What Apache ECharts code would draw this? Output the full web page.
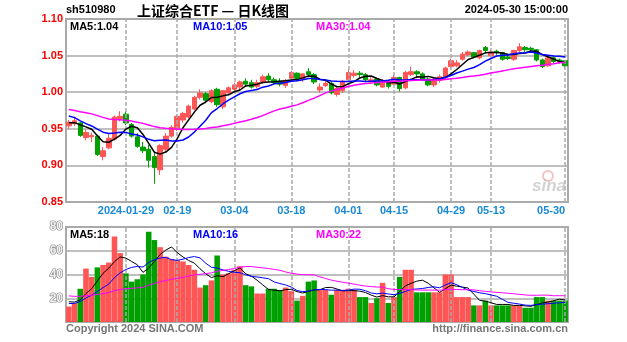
<!DOCTYPE html>
<html><head><meta charset="utf-8">
<script src="https://cdn.jsdelivr.net/npm/echarts/dist/echarts.min.js"></script>
<style>html,body{margin:0;padding:0;background:#fff}#c{width:627px;height:342px}</style>
</head><body><div id="c"></div>
<script>
const dates = [
'2024-01-15','2024-01-16','2024-01-17','2024-01-18','2024-01-19','2024-01-22','2024-01-23','2024-01-24','2024-01-25','2024-01-26',
'2024-01-29','2024-01-30','2024-01-31','2024-02-01','2024-02-02','2024-02-05','2024-02-06','2024-02-07','2024-02-08','2024-02-19',
'2024-02-20','2024-02-21','2024-02-22','2024-02-23','2024-02-26','2024-02-27','2024-02-28','2024-02-29','2024-03-01','2024-03-04',
'2024-03-05','2024-03-06','2024-03-07','2024-03-08','2024-03-11','2024-03-12','2024-03-13','2024-03-14','2024-03-15','2024-03-18',
'2024-03-19','2024-03-20','2024-03-21','2024-03-22','2024-03-25','2024-03-26','2024-03-27','2024-03-28','2024-03-29','2024-04-01',
'2024-04-02','2024-04-03','2024-04-08','2024-04-09','2024-04-10','2024-04-11','2024-04-12','2024-04-15','2024-04-16','2024-04-17',
'2024-04-18','2024-04-19','2024-04-22','2024-04-23','2024-04-24','2024-04-25','2024-04-26','2024-04-29','2024-04-30','2024-05-06',
'2024-05-07','2024-05-08','2024-05-09','2024-05-10','2024-05-13','2024-05-14','2024-05-15','2024-05-16','2024-05-17','2024-05-20',
'2024-05-21','2024-05-22','2024-05-23','2024-05-24','2024-05-27','2024-05-28','2024-05-29','2024-05-30'];

const openP = [
.954,.957,.958,.938,.939,.940,.912,.924,.936,.964,
.970,.956,.939,.925,.922,.912,.894,.922,.940,.949,
.962,.966,.977,.993,.998,.987,1.004,.980,.999,1.004,
1.007,1.015,1.013,1.008,1.014,1.022,1.017,1.015,1.009,1.019,
1.026,1.018,1.028,1.024,1.003,1.009,1.012,.997,1.002,1.017,
1.023,1.026,1.024,1.014,1.018,1.007,1.013,1.011,1.020,1.006,
1.024,1.028,1.025,1.018,1.010,1.016,1.020,1.035,1.036,1.045,
1.051,1.054,1.047,1.061,1.050,1.056,1.054,1.048,1.045,1.057,
1.061,1.060,1.058,1.044,1.036,1.047,1.044,1.043];
const closeP = [
.959,.961,.941,.945,.941,.915,.920,.937,.966,.967,
.958,.940,.926,.920,.907,.897,.927,.940,.952,.967,
.971,.981,.993,.999,.989,1.002,.983,1.002,1.006,1.010,
1.014,1.011,1.007,1.013,1.021,1.017,1.013,1.011,1.016,1.027,
1.019,1.025,1.024,1.014,1.007,1.012,.999,1.005,1.015,1.027,
1.026,1.024,1.017,1.017,1.010,1.013,1.008,1.020,1.005,1.027,
1.028,1.025,1.018,1.010,1.018,1.021,1.033,1.043,1.040,1.052,
1.055,1.048,1.057,1.057,1.055,1.054,1.045,1.046,1.057,1.062,
1.058,1.058,1.044,1.035,1.047,1.042,1.042,1.036];
const lowP = [
.950,.954,.939,.934,.932,.913,.907,.922,.934,.960,
.955,.938,.924,.917,.897,.875,.887,.917,.938,.947,
.958,.964,.975,.990,.985,.985,.980,.977,.996,1.000,
1.003,1.008,1.005,1.005,1.012,1.014,1.010,1.008,1.006,1.017,
1.015,1.014,1.022,1.011,.999,1.007,.997,.994,.999,1.015,
1.020,1.020,1.014,1.011,1.008,1.006,1.005,1.009,1.001,1.004,
1.022,1.019,1.015,1.008,1.007,1.013,1.018,1.033,1.034,1.043,
1.049,1.046,1.045,1.053,1.048,1.051,1.043,1.044,1.043,1.055,
1.055,1.054,1.042,1.033,1.035,1.040,1.039,1.033];
const highP = [
.962,.967,.959,.949,.945,.942,.925,.944,.968,.974,
.974,.958,.944,.932,.928,.917,.929,.944,.955,.969,
.973,.983,.995,1.004,1.000,1.004,1.006,1.003,1.008,1.013,
1.016,1.019,1.017,1.017,1.024,1.026,1.020,1.019,1.018,1.029,
1.027,1.026,1.033,1.026,1.012,1.017,1.015,1.008,1.017,1.031,
1.030,1.029,1.026,1.021,1.020,1.018,1.015,1.024,1.021,1.029,
1.035,1.030,1.027,1.020,1.020,1.024,1.035,1.046,1.044,1.055,
1.057,1.055,1.058,1.063,1.058,1.058,1.055,1.052,1.058,1.067,
1.063,1.062,1.059,1.046,1.049,1.049,1.046,1.044];
const volume = [
13,16,28,45,38,46,48,50,72,58,
41,34,36,40,76,69,63,55,53,52,
51,48,44,29,31,35,56,40,41,44,
47,31,30,24,24,28,28,27,29,26,
18,22,34,35,27,27,23,27,27,28,
27,21,21,16,20,33,16,21,38,44,
44,25,25,25,25,25,40,40,21,21,
21,14,14,18,14,14,14,14,14,14,
12,12,21,21,18,18,18,18];
// closes / volumes of the 29 sessions before the first shown day (only feed the moving averages)
const priorClose = [1.005,.988,.986,.986,.987,.994,.998,.987,.983,.978,.974,.974,.964,.970,.968,.970,.963,.968,.982,.989,.984,.986,.982,.973,.959,.961,.956,.959,.957];
const priorVolume = [28,26,30,27,25,24,27,26,25,23,24,26,22,25,24,23,21,24,27,28,14,13,15,14,14,17,19,18,18];

const tickDates = ['2024-01-29','2024-02-19','2024-03-04','2024-03-18','2024-04-01','2024-04-15','2024-04-29','2024-05-13','2024-05-30'];
const tickLabels = ['2024-01-29','02-19','03-04','03-18','04-01','04-15','04-29','05-13','05-30'];
const priceTicks = [0.85,0.90,0.95,1.00,1.05,1.10];
const volTicks = [0,20,40,60,80];
const priceLegend = ['MA5:1.04','MA10:1.05','MA30:1.04'];
const volLegend = ['MA5:18','MA10:16','MA30:22'];

const UP = '#ff5555', DOWN = '#00a000';
function ma(vals, prior, n){
  const all = prior.concat(vals), off = prior.length;
  return vals.map((_, i) => { let s = 0; for (let k = 0; k < n; k++) s += all[off + i - k]; return +(s / n).toFixed(4); });
}
const kData = dates.map((d, i) => [openP[i], closeP[i], lowP[i], highP[i]]);
const volData = volume.map((v, i) => ({ value: v, itemStyle: { color: closeP[i] >= openP[i] ? UP : DOWN } }));

const chart = echarts.init(document.getElementById('c'), null, { renderer: 'canvas' });
const vline = { symbol: 'none', silent: true, label: { show: false }, lineStyle: { color: '#aaa', type: [4, 2], width: 1.5 }, data: tickDates.map(d => ({ xAxis: d })) };
const lbl = (c) => ({ font: 'bold 11px "Liberation Sans", Arial, sans-serif', fill: c, textVerticalAlign: 'middle', verticalAlign: 'middle' });
function txt(x, y, t, c, extra) { return { type: 'text', x, y, silent: true, z: 100, style: Object.assign({ text: t }, lbl(c), extra || {}) }; }

chart.setOption({
  animation: false,
  backgroundColor: '#fff',
  grid: [
    { left: 66, top: 19, width: 502, height: 183, show: true, borderColor: '#aaa', borderWidth: 2, backgroundColor: 'transparent' },
    { left: 66, top: 227, width: 502, height: 95, show: true, borderColor: '#aaa', borderWidth: 2, backgroundColor: 'transparent' }
  ],
  xAxis: [
    { type: 'category', gridIndex: 0, data: dates, boundaryGap: true,
      axisLine: { show: false }, axisTick: { show: false }, splitLine: { show: false },
      axisLabel: { interval: (i, v) => tickDates.includes(v), formatter: v => tickLabels[tickDates.indexOf(v)] || '',
        color: '#1a8ad4', fontWeight: 'bold', fontSize: 11, fontFamily: '"Liberation Sans", Arial, sans-serif', margin: 3, alignMaxLabel: 'right', hideOverlap: false } },
    { type: 'category', gridIndex: 1, data: dates, boundaryGap: true,
      axisLine: { show: false }, axisTick: { show: false }, splitLine: { show: false }, axisLabel: { show: false } }
  ],
  yAxis: [
    { type: 'value', gridIndex: 0, min: 0.85, max: 1.10, interval: 0.05,
      axisLine: { show: false }, axisTick: { show: false },
      splitLine: { show: true, lineStyle: { color: '#aaa', width: 1.5 } },
      axisLabel: { color: '#ff0000', fontWeight: 'bold', fontSize: 11, fontFamily: '"Liberation Sans", Arial, sans-serif', margin: 3,
        formatter: v => priceTicks.some(t => Math.abs(t - v) < 1e-6) ? v.toFixed(2) : '' } },
    { type: 'value', gridIndex: 1, min: 0, max: 80, interval: 20,
      axisLine: { show: false }, axisTick: { show: false },
      splitLine: { show: true, lineStyle: { color: '#aaa', width: 1.5 } },
      axisLabel: { color: '#eee', textBorderColor: '#888', textBorderWidth: 1.2, fontWeight: 'bold', fontSize: 12, fontFamily: '"Liberation Sans", Arial, sans-serif', margin: 3,
        formatter: v => (v === 0 || !volTicks.includes(v)) ? '' : String(v) } }
  ],
  series: [
    { type: 'candlestick', xAxisIndex: 0, yAxisIndex: 0, data: kData, barWidth: 5,
      itemStyle: { color: UP, color0: DOWN, borderColor: UP, borderColor0: DOWN, borderWidth: 1 }, markLine: vline, z: 3 },
    { type: 'line', xAxisIndex: 0, yAxisIndex: 0, data: ma(closeP, priorClose, 5), symbol: 'none', lineStyle: { color: '#000', width: 1.5 }, z: 5 },
    { type: 'line', xAxisIndex: 0, yAxisIndex: 0, data: ma(closeP, priorClose, 10), symbol: 'none', lineStyle: { color: '#0000ff', width: 1.5 }, z: 5 },
    { type: 'line', xAxisIndex: 0, yAxisIndex: 0, data: ma(closeP, priorClose, 30), symbol: 'none', lineStyle: { color: '#ff00ff', width: 1.5 }, z: 5 },
    { type: 'bar', xAxisIndex: 1, yAxisIndex: 1, data: volData, barCategoryGap: '3%', markLine: vline, z: 3 },
    { type: 'line', xAxisIndex: 1, yAxisIndex: 1, data: ma(volume, priorVolume, 5), symbol: 'none', lineStyle: { color: '#000', width: 1 }, z: 5 },
    { type: 'line', xAxisIndex: 1, yAxisIndex: 1, data: ma(volume, priorVolume, 10), symbol: 'none', lineStyle: { color: '#0000ff', width: 1 }, z: 5 },
    { type: 'line', xAxisIndex: 1, yAxisIndex: 1, data: ma(volume, priorVolume, 30), symbol: 'none', lineStyle: { color: '#ff00ff', width: 1 }, z: 5 }
  ],
  graphic: [
    txt(66, 10, 'sh510980', '#000'),
    { type: 'text', x: 213, y: 11, silent: true, z: 100, style: { text: '上证综合ETF — 日K线图', font: 'bold 14px "Noto Sans CJK SC", sans-serif', fill: '#000', textAlign: 'center', align: 'center', textVerticalAlign: 'middle', verticalAlign: 'middle' } },
    txt(568, 10, '2024-05-30 15:00:00', '#000', { textAlign: 'right', align: 'right' }),
    txt(70, 27, priceLegend[0], '#000'),
    txt(193, 27, priceLegend[1], '#0000ff'),
    txt(316, 27, priceLegend[2], '#ff00ff'),
    txt(70, 235, volLegend[0], '#000'),
    txt(193, 235, volLegend[1], '#0000ff'),
    txt(316, 235, volLegend[2], '#ff00ff'),
    { type: 'text', x: 66, y: 329, silent: true, z: 100, style: { text: 'Copyright 2024 SINA.COM', font: 'bold 11px "Liberation Sans", Arial, sans-serif', fill: '#777', textVerticalAlign: 'middle', verticalAlign: 'middle' } },
    { type: 'text', x: 568, y: 329, silent: true, z: 100, style: { text: 'http://finance.sina.com.cn', font: 'bold 11px "Liberation Sans", Arial, sans-serif', fill: '#777', textAlign: 'right', align: 'right', textVerticalAlign: 'middle', verticalAlign: 'middle' } },
    { type: 'circle', silent: true, z: 90, shape: { cx: 548, cy: 176, r: 5 }, style: { fill: 'none', stroke: 'rgba(230,120,120,0.45)', lineWidth: 2 } },
    { type: 'text', x: 532, y: 186, silent: true, z: 90, style: { text: 'sina', font: 'italic bold 17px "Liberation Sans", Arial, sans-serif', fill: 'rgba(180,180,180,0.6)', textVerticalAlign: 'middle', verticalAlign: 'middle' } }
  ]
});
</script></body></html>
